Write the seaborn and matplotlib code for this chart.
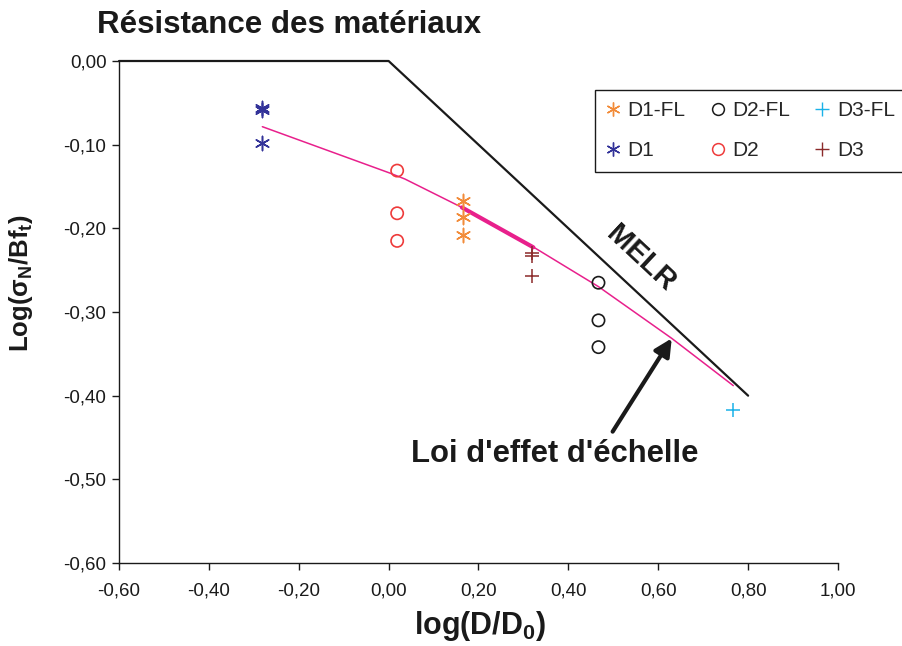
import matplotlib
matplotlib.use("Agg")
import matplotlib.pyplot as plt
import seaborn as sns
import pandas as pd
from matplotlib.lines import Line2D
from matplotlib.ticker import FuncFormatter, FixedLocator

# ---------------- data ----------------
d1fl_x = [0.166, 0.166, 0.166]
d1fl_y = [-0.167, -0.187, -0.208]
d2fl_x = [0.467, 0.467, 0.467]
d2fl_y = [-0.265, -0.310, -0.342]
d3fl_x = [0.767]
d3fl_y = [-0.417]
d1_x = [-0.282, -0.282, -0.282]
d1_y = [-0.0556, -0.0586, -0.098]
d2_x = [0.019, 0.019, 0.019]
d2_y = [-0.131, -0.182, -0.215]
d3_x = [0.318, 0.318, 0.318]
d3_y = [-0.230, -0.2335, -0.257]

melr_x = [-0.60, 0.00, 0.80]
melr_y = [0.00, 0.00, -0.40]

law_x = [-0.281, 0.003, 0.036, 0.163, 0.315, 0.467, 0.630, 0.767]
law_y = [-0.0785, -0.134, -0.141, -0.175, -0.220, -0.2697, -0.3315, -0.388]

seg_x = [0.163, 0.322]
seg_y = [-0.175, -0.2227]

x_ticks = [-0.60, -0.40, -0.20, 0.00, 0.20, 0.40, 0.60, 0.80, 1.00]
y_ticks = [0.00, -0.10, -0.20, -0.30, -0.40, -0.50, -0.60]

title = "Résistance des matériaux"
xlabel = "log(D/D$_\\mathbf{0}$)"
ylabel = "Log(σ$_\\mathbf{N}$/Bf$_\\mathbf{t}$)"
annot_text = "Loi d'effet d'échelle"
melr_text = "MELR"

series = [
    ("D1-FL", d1fl_x, d1fl_y, "#F28C3A", "ast"),
    ("D1", d1_x, d1_y, "#333399", "ast"),
    ("D2-FL", d2fl_x, d2fl_y, "#1A1A1A", "o"),
    ("D2", d2_x, d2_y, "#EE3B3B", "o"),
    ("D3-FL", d3fl_x, d3fl_y, "#1AB2E8", "+"),
    ("D3", d3_x, d3_y, "#8B2A2A", "+"),
]

# ---------------- style ----------------
sns.set_style("ticks")
plt.rcParams["font.family"] = ["Liberation Sans", "DejaVu Sans"]
plt.rcParams["mathtext.fontset"] = "custom"
plt.rcParams["mathtext.rm"] = "Liberation Sans"
plt.rcParams["mathtext.bf"] = "Liberation Sans:bold"
plt.rcParams["mathtext.it"] = "Liberation Sans:italic"

fig = plt.figure(figsize=(9.03, 6.46), dpi=100)
ax = fig.add_axes([119 / 903, 1 - 563 / 646, 719 / 903, 502 / 646])

black = "#1A1A1A"
pink = "#E8208C"

# lines
sns.lineplot(x=melr_x, y=melr_y, ax=ax, color=black, linewidth=1.6,
             sort=False, estimator=None, clip_on=False)
sns.lineplot(x=law_x, y=law_y, ax=ax, color=pink, linewidth=1.1,
             sort=False, estimator=None)
sns.lineplot(x=seg_x, y=seg_y, ax=ax, color=pink, linewidth=3.0,
             sort=False, estimator=None)

ast_marker = (6, 2, 0)
handles = []
for name, xs, ys, col, mk in series:
    if mk == "ast":
        sns.scatterplot(x=xs, y=ys, ax=ax, marker=ast_marker, s=105,
                        color=col, linewidth=1.1, zorder=3)
        h = Line2D([], [], marker=ast_marker, linestyle="none", color=col,
                   markersize=10, markeredgewidth=1.0)
    elif mk == "o":
        sns.scatterplot(x=xs, y=ys, ax=ax, marker="o", s=78,
                        facecolor="none", edgecolor=col, linewidth=1.2, zorder=3)
        h = Line2D([], [], marker="o", linestyle="none", markerfacecolor="none",
                   markeredgecolor=col, markersize=8.5, markeredgewidth=1.1)
    else:
        sns.scatterplot(x=xs, y=ys, ax=ax, marker="+", s=100,
                        color=col, linewidth=1.1, zorder=3)
        h = Line2D([], [], marker="+", linestyle="none", color=col,
                   markersize=10, markeredgewidth=1.0)
    handles.append((h, name))

# axes
ax.set_xlim(-0.6, 1.0)
ax.set_ylim(-0.6, 0.0)
ax.xaxis.set_major_locator(FixedLocator(x_ticks))
ax.yaxis.set_major_locator(FixedLocator(y_ticks))
fmt = FuncFormatter(lambda v, p: ("%.2f" % (0.0 if abs(v) < 1e-9 else v)).replace(".", ","))
ax.xaxis.set_major_formatter(fmt)
ax.yaxis.set_major_formatter(fmt)
sns.despine(ax=ax)
for sp in ("left", "bottom"):
    ax.spines[sp].set_linewidth(1.0)
    ax.spines[sp].set_color(black)
ax.tick_params(axis="both", direction="out", length=5, width=1.0,
               color=black, labelsize=13.5, labelcolor=black)
ax.tick_params(axis="x", pad=9)
ax.tick_params(axis="y", pad=4)

ax.set_xlabel(xlabel, fontsize=22, fontweight="bold", color=black)
ax.xaxis.set_label_coords((480 - 119) / 719, -0.092)
ax.set_ylabel(ylabel, fontsize=18.5, fontweight="bold", color=black)
ax.yaxis.set_label_coords(-0.117, 0.558)

fig.text(97 / 903, 1 - 33 / 646, title, fontsize=22.5, fontweight="bold",
         color=black, ha="left", va="baseline")

# annotations
ax.annotate("", xy=(0.630, -0.3315), xytext=(0.4985, -0.443),
            arrowprops=dict(arrowstyle="-|>", lw=3, color=black,
                            mutation_scale=26, shrinkA=0, shrinkB=0))
ax.text(0.370, -0.479, annot_text, fontsize=22.3, fontweight="bold",
        color=black, ha="center", va="baseline")
ax.text(0.561, -0.2355, melr_text, fontsize=21, fontweight="bold",
        color=black, ha="center", va="center", rotation=-43,
        rotation_mode="anchor")

# legend
leg = ax.legend([h for h, n in handles], [n for h, n in handles],
                ncol=3, loc="upper left",
                bbox_to_anchor=(595 / 903, 1 - 90 / 646),
                bbox_transform=fig.transFigure, borderaxespad=0,
                fontsize=15, frameon=True, fancybox=False,
                handlelength=0.6, handletextpad=0.4, columnspacing=1.25,
                labelspacing=1.0, borderpad=0.55)
leg.get_frame().set_edgecolor(black)
leg.get_frame().set_linewidth(1.0)
leg.get_frame().set_facecolor("white")
leg.get_frame().set_alpha(1)

fig.savefig("out.png", dpi=100)
